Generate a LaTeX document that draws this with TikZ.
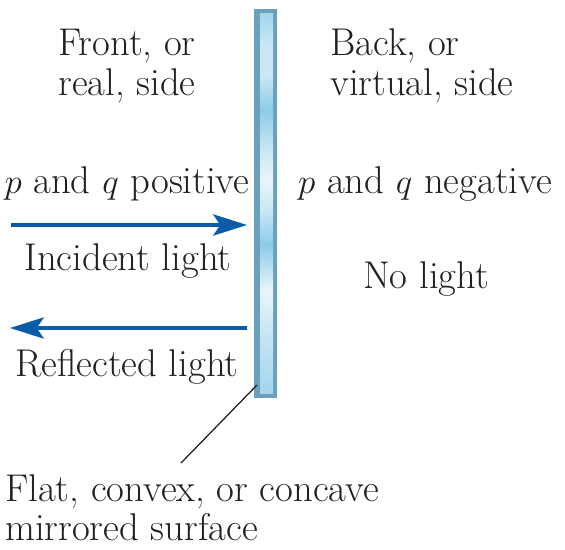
\documentclass[tikz,border=0pt]{standalone}
\usetikzlibrary{arrows.meta}

\definecolor{textgray}{HTML}{231F20}
\definecolor{rayblue}{HTML}{0A5CA8}
\definecolor{mirrorframe}{HTML}{6B9FBA}
\definecolor{glassmid}{HTML}{A3D5ED}
\definecolor{glasslight}{HTML}{C9E7F4}
\definecolor{glassdeep}{HTML}{8DCBE8}
\definecolor{glasswhite}{HTML}{E9F5FB}

% glass stripes, stops between 25bp (bottom) and 75bp (top)
\pgfdeclareverticalshading{mirrorglass}{100bp}{%
  color(0bp)=(glassmid); color(25bp)=(glassmid);
  color(33.3bp)=(glasslight); color(38.6bp)=(glasswhite);
  color(40.5bp)=(glasslight); color(44.5bp)=(glassdeep);
  color(49.1bp)=(glasslight); color(53bp)=(glasswhite);
  color(57bp)=(glasslight); color(62.2bp)=(glassdeep);
  color(66.8bp)=(glasslight); color(70.8bp)=(glasslight);
  color(75bp)=(glassmid); color(100bp)=(glassmid)}

\tikzset{
  sidetext/.style={font=\fontsize{27.5}{32}\selectfont, text=textgray,
    inner sep=0pt, anchor=base},
  ray/.style={draw=rayblue, line width=2.8pt,
    -{Stealth[length=24pt,width=15pt,inset=5pt]}},
}

\begin{document}
\begin{tikzpicture}[x=0.025cm, y=-0.025cm]
  \useasboundingbox (0,0) rectangle (565,549);

  % Spiegel
  \fill[mirrorframe] (254,9) rectangle (277,398);
  \shade[shading=mirrorglass] (260,13) rectangle (273,393);

  \coordinate (inStart) at (11,225);
  \coordinate (inEnd) at (247,225);
  \coordinate (reStart) at (247,328);
  \coordinate (reEnd) at (10,328);
  \coordinate (leaderTop) at (257,385);
  \coordinate (leaderEnd) at (181,463);

  \node[sidetext] (front) at (127,55) {Front, or};
  \node[sidetext] (frontb) at (127,95) {real, side};
  \node[sidetext, anchor=base west] (back) at (330,55) {Back, or};
  \node[sidetext, anchor=base west] (backb) at (330,95) {virtual, side};

  \node[sidetext] (pos) at (127,193) {$p$ and $q$ positive};
  \node[sidetext] (neg) at (425,193) {$p$ and $q$ negative};

  \node[sidetext] (incident) at (128,270) {Incident light};
  \node[sidetext] (nolight) at (426,288) {No light};
  \node[sidetext] (reflected) at (127,376) {Reflected light};

  \node[sidetext, anchor=base west] (surface) at (5,501) {Flat, convex, or concave};
  \node[sidetext, anchor=base west] (surfaceb) at (5,540) {mirrored surface};

  \draw[ray] (inStart) -- (inEnd);
  \draw[ray] (reStart) -- (reEnd);
  \draw[textgray, line width=0.9pt] (leaderTop) -- (leaderEnd);
\end{tikzpicture}
\end{document}
